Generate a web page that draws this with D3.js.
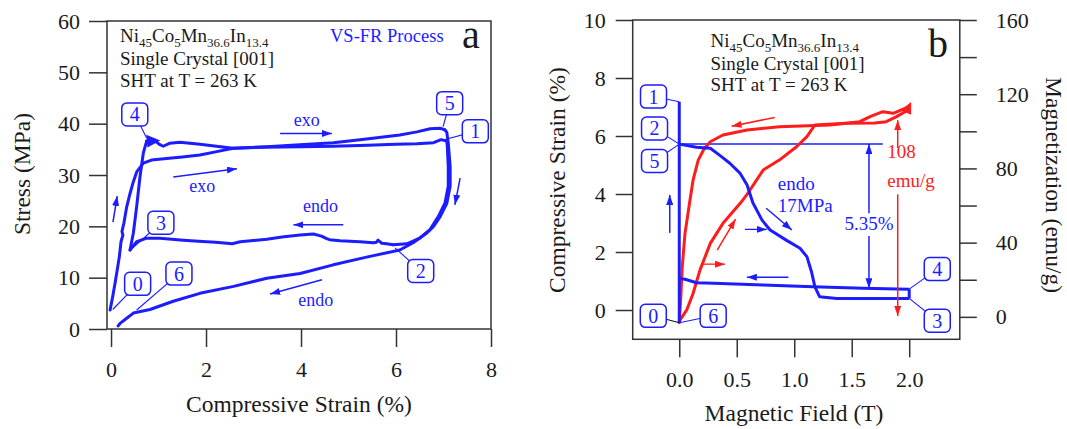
<!DOCTYPE html>
<html>
<head>
<meta charset="utf-8">
<script src="https://cdn.jsdelivr.net/npm/d3@7"></script>
<style>
  body { margin: 0; background: #fff; }
  svg { display: block; }
  text { font-family: "Liberation Serif", "Times New Roman", serif; fill: #1a1a1a; }
</style>
</head>
<body>
<svg id="chart" width="1067" height="429"></svg>
<script>
// ---------- panel a : stress vs strain (VS-FR process) ----------
var aStrainTicks = [0, 2, 4, 6, 8];
var aStressTicks = [0, 10, 20, 30, 40, 50, 60];

// 0 -> 1 loading (exo)
var a01Strain = [-0.02, 0.035, 0.084, 0.13, 0.175, 0.21, 0.25, 0.23, 0.27, 0.33, 0.40, 0.47, 0.54, 0.68, 0.85, 1.17, 1.5, 1.87, 2.2, 2.57, 3.2, 4.0, 4.68, 5.4, 6.0, 6.44, 6.79, 6.95, 7.07];
var a01Stress = [3.7, 6.3, 8.9, 11.5, 14.1, 17.0, 18.3, 19.0, 20.6, 23.8, 26.4, 28.7, 30.6, 32.3, 32.9, 33.2, 33.5, 33.9, 34.5, 35.2, 35.4, 35.5, 35.6, 35.8, 36.0, 36.1, 36.3, 36.9, 36.6];
// 1 -> 2 unloading
var a12Strain = [7.07, 7.08, 7.1, 7.1, 7.03, 6.89, 6.72, 6.5, 6.23, 5.94];
var a12Stress = [36.6, 35.6, 31.7, 27.8, 24.5, 21.9, 19.4, 17.7, 16.6, 16.4];
// 2 -> 3 (endo, field on)
var a23Strain = [5.94, 5.8, 5.7, 5.62, 5.59, 5.52, 5.24, 4.82, 4.6, 4.54, 4.43, 4.26, 3.98, 3.6, 3.28, 2.72, 2.55, 2.44, 2.2, 2.01, 1.52, 1.03, 0.75, 0.54, 0.4];
var a23Stress = [16.4, 16.6, 16.7, 17.3, 16.9, 16.8, 17.0, 17.2, 17.4, 17.6, 18.1, 18.5, 18.3, 17.9, 17.5, 17.0, 16.6, 16.7, 16.9, 17.0, 17.3, 17.7, 17.7, 17.0, 15.4];
// 3 -> 4 loading
var a34Strain = [0.4, 0.47, 0.54, 0.61, 0.68, 0.75];
var a34Stress = [15.4, 18.7, 23.9, 29.7, 34.3, 36.6];
// 4 -> 5 (exo, field off)
var a45Strain = [0.75, 0.89, 1.03, 1.1, 1.24, 1.45, 1.87, 2.22, 2.57, 3.28, 3.98, 4.68, 5.38, 6.08, 6.44, 6.72, 6.93, 7.03];
var a45Stress = [36.6, 36.9, 35.9, 35.6, 36.2, 36.4, 36.0, 35.6, 35.2, 35.5, 35.9, 36.3, 37.0, 37.8, 38.4, 39.0, 39.1, 38.8];
// 5 -> 6 unloading (endo)
var a56Strain = [7.03, 7.07, 7.1, 7.14, 7.14, 7.07, 6.93, 6.79, 6.65, 6.36, 6.08, 5.38, 4.68, 3.98, 3.28, 2.58, 1.87, 1.31, 0.82, 0.47, 0.33, 0.19, 0.15];
var a56Stress = [38.8, 38.3, 36.2, 31.7, 27.8, 24.5, 21.9, 20.0, 18.7, 16.8, 15.4, 14.0, 12.5, 10.8, 9.9, 8.3, 6.95, 5.4, 3.8, 3.1, 2.1, 1.1, 0.6];

// point labels of panel a: box centre and target on the curve
var aLabels = ['0', '6', '3', '4', '5', '1', '2'];
var aLabelStrain = [0.56, 1.43, 1.05, 0.50, 7.13, 7.67, 6.52];
var aLabelStress = [8.8, 10.8, 20.7, 41.8, 44.0, 38.5, 11.3];
var aTargetStrain = [0.036, 0.54, 0.46, 0.75, 6.99, 6.99, 5.98];
var aTargetStress = [3.8, 3.7, 15.8, 37.2, 39.4, 36.8, 15.8];

// ---------- panel b : strain & magnetization vs field ----------
var bFieldTicks = [0, 0.5, 1.0, 1.5, 2.0];
var bStrainTicks = [0, 2, 4, 6, 8, 10];
var bMagTicks = [0, 20, 40, 60, 80, 100, 120, 140, 160];
var bMagLabels = [0, 40, 80, 120, 160];

// stress loading / unloading at zero field
var bZeroField = [0, 0];
var bZeroStrain = [-0.44, 7.18];
// 2 -> 3 field applied at 17 MPa
var b23Field = [0, 0.15, 0.27, 0.35, 0.44, 0.53, 0.59, 0.64, 0.72, 0.79, 0.93, 1.05, 1.11, 1.15, 1.18, 1.22, 1.37, 1.7, 2.0];
var b23Strain = [5.72, 5.61, 5.58, 5.34, 5.06, 4.71, 4.31, 3.7, 3.1, 2.76, 2.41, 2.13, 1.84, 1.32, 0.8, 0.46, 0.40, 0.40, 0.40];
// 3 -> 4 loading at 2 T
var b34Field = [2.0, 2.0];
var b34Strain = [0.40, 0.72];
// 4 -> 5 field removed
var b45Field = [2.0, 1.6, 1.16, 0.73, 0.30, 0.15, 0.05, 0.0];
var b45Strain = [0.72, 0.75, 0.80, 0.86, 0.92, 0.94, 1.06, 1.09];
// magnetization, increasing field
var bMagUpField = [0, 0.006, 0.064, 0.12, 0.18, 0.27, 0.38, 0.53, 0.59, 0.73, 0.87, 1.02, 1.11, 1.18, 1.45, 1.7, 1.8, 1.89, 1.99];
var bMagUp = [-3, -1.8, 3.6, 12.6, 25.2, 39.6, 50.4, 61.2, 66, 79.1, 84.5, 91.7, 97.1, 103.4, 104.3, 104.5, 105.2, 107.9, 111.5];
// magnetization, decreasing field
var bMagDownField = [2.0, 1.86, 1.77, 1.66, 1.57, 1.31, 0.87, 0.59, 0.38, 0.27, 0.21, 0.165, 0.12, 0.093, 0.05, 0.026, 0.012, 0.0];
var bMagDown = [113.3, 109.7, 110.6, 107.9, 105.2, 103.4, 102.5, 100.7, 98, 94.4, 89.9, 84.5, 73.7, 62.9, 45, 27, 9, -3];

var bLabels = ['1', '2', '5', '0', '6', '4', '3'];
var bLabelField = [-0.224, -0.215, -0.215, -0.226, 0.295, 2.244, 2.244];
var bLabelStrain = [7.36, 6.26, 5.14, -0.2, -0.2, 1.41, -0.37];
var bTargetField = [0, 0, 0, 0, 0, 2.0, 2.0];
var bTargetStrain = [7.18, 5.72, 5.72, -0.44, -0.44, 0.72, 0.40];

var blue = '#1c1cff', red = '#ff1c1c', frameCol = '#333';

var svg = d3.select('#chart');
var pts = (xs, ys) => xs.map((v, i) => [v, ys[i]]);

var defs = svg.append('defs');
[['arrowBlue', blue], ['arrowRed', red]].forEach(function(m) {
    defs.append('marker')
        .attr('id', m[0])
        .attr('viewBox', '0 0 10 7')
        .attr('refX', 10).attr('refY', 3.5)
        .attr('markerWidth', 10).attr('markerHeight', 7)
        .attr('markerUnits', 'userSpaceOnUse')
        .attr('orient', 'auto-start-reverse')
        .append('path').attr('d', 'M0,0L10,3.5L0,7z').attr('fill', m[1]);
});

function formula(x, y) {
    var t = svg.append('text').attr('x', x).attr('y', y).attr('font-size', 19);
    var parts = [['Ni', 0], ['45', 1], ['Co', 0], ['5', 1], ['Mn', 0], ['36.6', 1], ['In', 0], ['13.4', 1]];
    var prev = 0;
    parts.forEach(function(p) {
        t.append('tspan').text(p[0])
            .attr('font-size', p[1] ? 13 : 19)
            .attr('dy', p[1] === prev ? 0 : (p[1] ? 5 : -5));
        prev = p[1];
    });
}

function labelBox(x, y, tx, ty, txt, leaderCol) {
    svg.append('line')
        .attr('x1', x).attr('y1', y).attr('x2', tx).attr('y2', ty)
        .attr('stroke', leaderCol || blue).attr('stroke-width', 1.1);
    svg.append('rect')
        .attr('x', x - 13).attr('y', y - 11.5).attr('width', 26).attr('height', 23)
        .attr('rx', 5).attr('fill', '#fff').attr('stroke', blue).attr('stroke-width', 1.5);
    svg.append('text').attr('x', x).attr('y', y + 7).attr('text-anchor', 'middle')
        .attr('font-size', 20).style('fill', blue).text(txt);
}

function arrow(x1, y1, x2, y2, col, w, both) {
    svg.append('line')
        .attr('x1', x1).attr('y1', y1).attr('x2', x2).attr('y2', y2)
        .attr('stroke', col).attr('stroke-width', w || 1.5)
        .attr('marker-end', 'url(#' + (col === red ? 'arrowRed' : 'arrowBlue') + ')');
}

// ===================== panel a =====================
var xA = d3.scaleLinear().domain([-0.085, 8]).range([107, 491]);
var yA = d3.scaleLinear().domain([0, 60]).range([329, 21]);

svg.append('g')
    .attr('transform', 'translate(0,329)')
    .call(d3.axisBottom(xA).tickValues(aStrainTicks).tickSize(18).tickFormat(d3.format('d')))
    .call(g => g.select('.domain').remove())
    .call(g => g.selectAll('line').attr('stroke', frameCol).attr('stroke-width', 1.5))
    .call(g => g.selectAll('text').attr('dy', null).attr('y', 48)
        .attr('font-size', 22).attr('font-family', 'Liberation Serif').attr('fill', '#1a1a1a'));

svg.append('g')
    .attr('transform', 'translate(107,0)')
    .call(d3.axisLeft(yA).tickValues(aStressTicks).tickSize(18).tickPadding(9))
    .call(g => g.select('.domain').remove())
    .call(g => g.selectAll('line').attr('stroke', frameCol).attr('stroke-width', 1.5))
    .call(g => g.selectAll('text').attr('font-size', 22).attr('font-family', 'Liberation Serif').attr('fill', '#1a1a1a'));

svg.append('rect').attr('x', 107).attr('y', 21).attr('width', 384).attr('height', 308)
    .attr('fill', 'none').attr('stroke', frameCol).attr('stroke-width', 1.5);

svg.append('text').attr('x', 299).attr('y', 412).attr('text-anchor', 'middle')
    .attr('font-size', 23.5).text('Compressive Strain (%)');
svg.append('text').attr('transform', 'translate(30,174) rotate(-90)').attr('text-anchor', 'middle')
    .attr('font-size', 23.5).text('Stress (MPa)');

var lineA = d3.line().x(d => xA(d[0])).y(d => yA(d[1]));
[[a01Strain, a01Stress], [a12Strain, a12Stress], [a23Strain, a23Stress],
 [a34Strain, a34Stress], [a45Strain, a45Stress], [a56Strain, a56Stress]].forEach(function(s) {
    svg.append('path').attr('d', lineA(pts(s[0], s[1])))
        .attr('fill', 'none').attr('stroke', blue).attr('stroke-width', 3)
        .attr('stroke-linejoin', 'round').attr('stroke-linecap', 'round');
});
// small blob near point 4
svg.append('path')
    .attr('d', lineA([[0.76, 37.6], [1.0, 36.7], [0.78, 35.6]]) + 'Z')
    .attr('fill', blue).attr('stroke', blue).attr('stroke-width', 1.5);

// arrows a
arrow(xA(0.04), yA(20.8), xA(0.13), yA(25.9), blue);
arrow(xA(1.31), yA(29.6), xA(2.65), yA(31.2), blue);
arrow(xA(3.56), yA(38.1), xA(4.65), yA(38.1), blue);
arrow(xA(4.89), yA(20.3), xA(3.84), yA(20.3), blue);
arrow(xA(4.44), yA(9.6), xA(3.35), yA(6.8), blue);
arrow(xA(7.35), yA(29.4), xA(7.24), yA(24.2), blue);

[['exo', 4.12, 39.5], ['exo', 1.92, 26.6], ['endo', 4.41, 22.7], ['endo', 4.31, 4.5]].forEach(function(t) {
    svg.append('text').attr('x', xA(t[1])).attr('y', yA(t[2])).attr('text-anchor', 'middle')
        .attr('font-size', 18).style('fill', blue).text(t[0]);
});

aLabels.forEach(function(l, i) {
    labelBox(xA(aLabelStrain[i]), yA(aLabelStress[i]), xA(aTargetStrain[i]), yA(aTargetStress[i]), l);
});

formula(120, 42);
svg.append('text').attr('x', 120).attr('y', 65).attr('font-size', 19).text('Single Crystal [001]');
svg.append('text').attr('x', 120).attr('y', 87).attr('font-size', 19).text('SHT at T = 263 K');
svg.append('text').attr('x', 330).attr('y', 42).attr('font-size', 18.5).style('fill', blue).text('VS-FR Process');
svg.append('text').attr('x', 462).attr('y', 48).attr('font-size', 40).text('a');

// ===================== panel b =====================
var xB = d3.scaleLinear().domain([-0.405, 2.44]).range([632.7, 959.8]);
var yB = d3.scaleLinear().domain([-1.01, 10]).range([339.3, 20]);
var yM = d3.scaleLinear().domain([-12.1, 160]).range([339.3, 20]);

svg.append('g')
    .attr('transform', 'translate(0,339.3)')
    .call(d3.axisBottom(xB).tickValues(bFieldTicks).tickSize(18).tickFormat(d3.format('.1f')))
    .call(g => g.select('.domain').remove())
    .call(g => g.selectAll('line').attr('stroke', frameCol).attr('stroke-width', 1.5))
    .call(g => g.selectAll('text').attr('dy', null).attr('y', 48)
        .attr('font-size', 22).attr('font-family', 'Liberation Serif').attr('fill', '#1a1a1a'));

svg.append('g')
    .attr('transform', 'translate(632.7,0)')
    .call(d3.axisLeft(yB).tickValues(bStrainTicks).tickSize(17).tickPadding(10))
    .call(g => g.select('.domain').remove())
    .call(g => g.selectAll('line').attr('stroke', frameCol).attr('stroke-width', 1.5))
    .call(g => g.selectAll('text').attr('font-size', 22).attr('font-family', 'Liberation Serif').attr('fill', '#1a1a1a'));

svg.append('g')
    .attr('transform', 'translate(959.8,0)')
    .call(d3.axisRight(yM).tickValues(bMagTicks).tickSize(17).tickPadding(19)
        .tickFormat(d => bMagLabels.indexOf(d) >= 0 ? d : ''))
    .call(g => g.select('.domain').remove())
    .call(g => g.selectAll('line').attr('stroke', frameCol).attr('stroke-width', 1.5))
    .call(g => g.selectAll('text').attr('font-size', 22).attr('font-family', 'Liberation Serif').attr('fill', '#1a1a1a'));

svg.append('rect').attr('x', 632.7).attr('y', 20).attr('width', 327.1).attr('height', 319.3)
    .attr('fill', 'none').attr('stroke', frameCol).attr('stroke-width', 1.5);

svg.append('text').attr('x', 794).attr('y', 421).attr('text-anchor', 'middle')
    .attr('font-size', 23.5).text('Magnetic Field (T)');
svg.append('text').attr('transform', 'translate(565,180) rotate(-90)').attr('text-anchor', 'middle')
    .attr('font-size', 23.5).text('Compressive Strain (%)');
svg.append('text').attr('transform', 'translate(1046,185) rotate(90)').attr('text-anchor', 'middle')
    .attr('font-size', 23.5).text('Magnetization (emu/g)');

var lineB = d3.line().x(d => xB(d[0])).y(d => yB(d[1]));
var lineM = d3.line().x(d => xB(d[0])).y(d => yM(d[1]));

// reference line at 5.72 %
svg.append('line').attr('x1', xB(0)).attr('x2', xB(1.77)).attr('y1', yB(5.72)).attr('y2', yB(5.72))
    .attr('stroke', blue).attr('stroke-width', 1.5);

[[bMagUpField, bMagUp], [bMagDownField, bMagDown]].forEach(function(s) {
    svg.append('path').attr('d', lineM(pts(s[0], s[1])))
        .attr('fill', 'none').attr('stroke', red).attr('stroke-width', 3)
        .attr('stroke-linejoin', 'round').attr('stroke-linecap', 'round');
});
svg.append('path')
    .attr('d', lineM([[1.94, 111.5], [2.01, 115], [2.01, 109.5]]) + 'Z')
    .attr('fill', red).attr('stroke', red).attr('stroke-width', 1.5);

[[bZeroField, bZeroStrain], [b23Field, b23Strain], [b34Field, b34Strain], [b45Field, b45Strain]].forEach(function(s) {
    svg.append('path').attr('d', lineB(pts(s[0], s[1])))
        .attr('fill', 'none').attr('stroke', blue).attr('stroke-width', 3)
        .attr('stroke-linejoin', 'round');
});

// 5.35 % double arrow
arrow(xB(1.65), yB(3.34), xB(1.65), yB(5.72), blue);
arrow(xB(1.65), yB(2.55), xB(1.65), yB(0.75), blue);
svg.append('text').attr('x', xB(1.65)).attr('y', yB(2.76)).attr('text-anchor', 'middle')
    .attr('font-size', 19).style('fill', blue).text('5.35%');
// 108 emu/g double arrow
arrow(xB(1.90), yM(91), xB(1.90), yM(106), red);
arrow(xB(1.90), yM(66), xB(1.90), yM(0.5), red);
svg.append('text').attr('x', xB(1.81)).attr('y', yM(85.6)).attr('font-size', 19).style('fill', red).text('108');
svg.append('text').attr('x', xB(1.81)).attr('y', yM(70)).attr('font-size', 19).style('fill', red).text('emu/g');

svg.append('text').attr('x', xB(0.857)).attr('y', yB(4.14)).attr('font-size', 19).style('fill', blue).text('endo');
svg.append('text').attr('x', xB(0.857)).attr('y', yB(3.39)).attr('font-size', 19).style('fill', blue).text('17MPa');

// arrows b
arrow(xB(-0.083), yB(2.66), xB(-0.083), yB(3.97), blue);
arrow(xB(0.756), yB(3.51), xB(0.979), yB(2.76), blue);
arrow(xB(0.571), yB(2.78), xB(0.762), yB(2.78), blue, 1.3);
arrow(xB(0.949), yB(1.13), xB(0.588), yB(1.13), blue);
arrow(xB(0.831), yM(107.5), xB(0.455), yM(102.7), red);
arrow(xB(0.33), yM(36), xB(0.49), yM(52.7), red);
arrow(xB(0.195), yM(28.4), xB(0.397), yM(28.4), red, 1.3);

bLabels.forEach(function(l, i) {
    labelBox(xB(bLabelField[i]), yB(bLabelStrain[i]), xB(bTargetField[i]), yB(bTargetStrain[i]), l,
        l === '0' ? '#111' : blue);
});

formula(710.5, 47);
svg.append('text').attr('x', 710.5).attr('y', 70).attr('font-size', 19).text('Single Crystal [001]');
svg.append('text').attr('x', 710.5).attr('y', 91).attr('font-size', 19).text('SHT at T = 263 K');
svg.append('text').attr('x', 928).attr('y', 57).attr('font-size', 40).text('b');
</script>
</body>
</html>
